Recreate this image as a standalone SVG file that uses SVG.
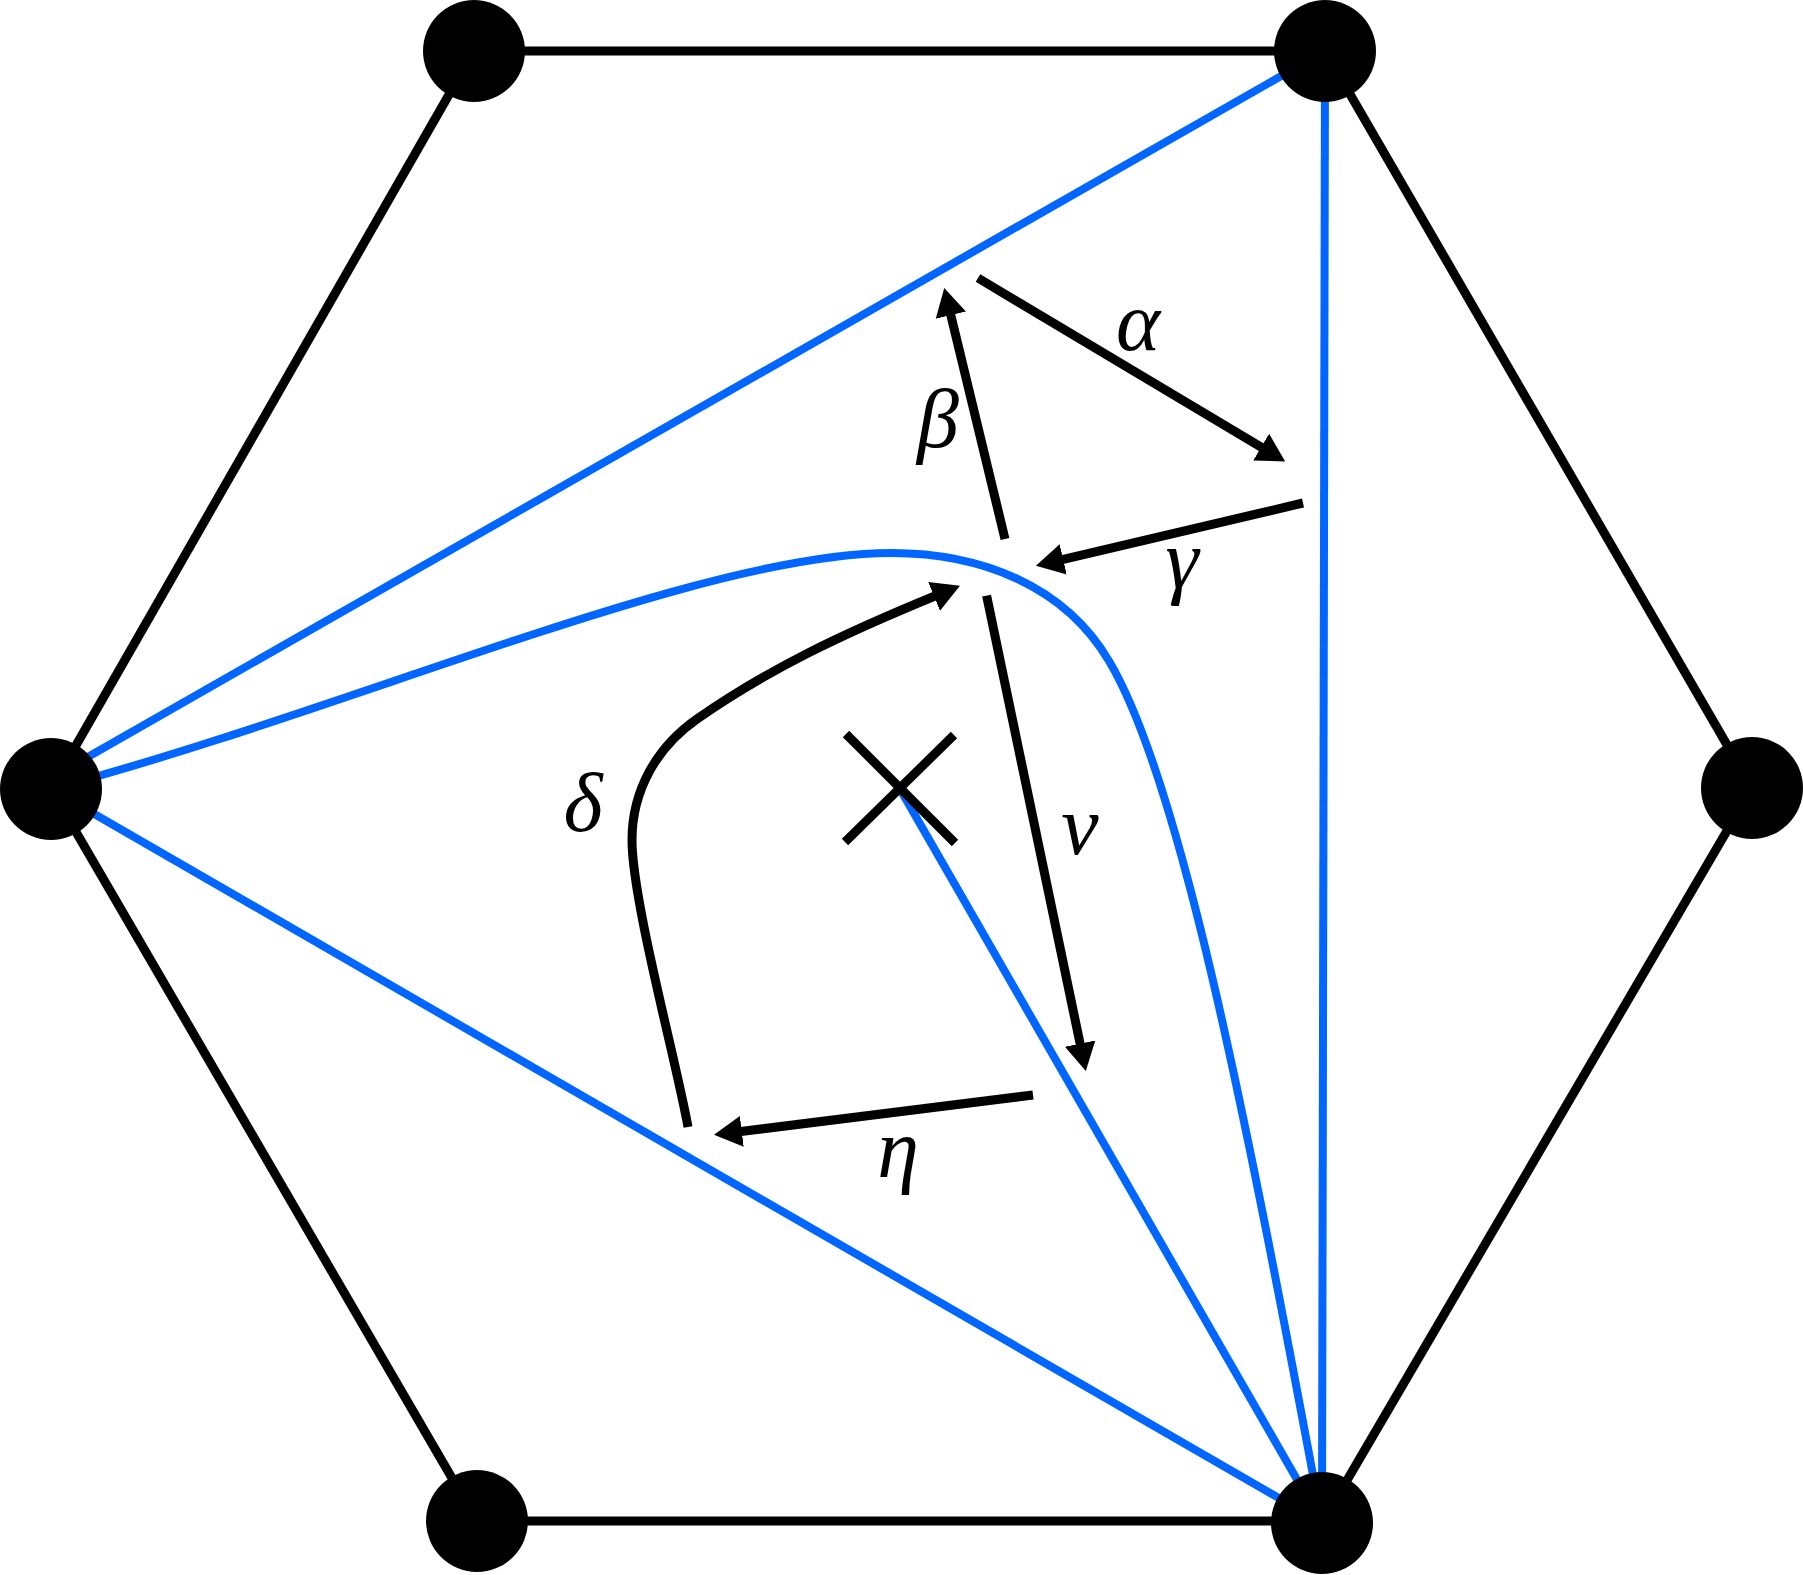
<svg xmlns="http://www.w3.org/2000/svg" width="1803" height="1575" viewBox="0 0 1803 1575">
<style>
.edge{stroke:#000;stroke-width:9;fill:none}
.blue{stroke:#0066FF;stroke-width:8;fill:none}
.arr{stroke:#000;stroke-width:9;fill:none;marker-end:url(#ah)}
.node{fill:#000}
.lbl{font-family:"Liberation Serif","DejaVu Serif",serif;font-style:italic;font-size:84px;fill:#000;text-anchor:middle}
</style>
<defs>
<marker id="ah" markerUnits="userSpaceOnUse" markerWidth="40" markerHeight="40" viewBox="0 -20 40 40" refX="1" refY="0" orient="auto">
<path d="M0,-15.5 L28,0 L0,15.5 Z" fill="#000"/>
</marker>
</defs>
<g id="connectors">
<line class="edge" x1="474" y1="51" x2="1325" y2="51"/>
<line class="edge" x1="1325" y1="51" x2="1752" y2="788"/>
<line class="edge" x1="1752" y1="788" x2="1322" y2="1523"/>
<line class="edge" x1="1322" y1="1521" x2="477" y2="1521"/>
<line class="edge" x1="477" y1="1521" x2="51" y2="789"/>
<line class="edge" x1="51" y1="789" x2="474" y2="51"/>
<line class="blue" x1="51" y1="778" x2="1325" y2="51"/>
<line class="blue" x1="51" y1="789" x2="1322" y2="1523"/>
<line class="blue" x1="1325" y1="51" x2="1322" y2="1523"/>
<line class="blue" x1="900" y1="789" x2="1322" y2="1523"/>
<path class="blue" d="M51,789 C350,710 700,553 891,553 C980,553 1064,585 1109,661 C1180,780 1245,1110 1322,1523"/>
<line class="edge" x1="846" y1="734" x2="955" y2="843"/>
<line class="edge" x1="954" y1="735" x2="845" y2="842"/>
<line class="arr" x1="978" y1="278" x2="1262" y2="447.6"/>
<line class="arr" x1="1005" y1="539" x2="950.6" y2="314.2"/>
<line class="arr" x1="1303" y1="503" x2="1062.2" y2="559.6"/>
<line class="arr" x1="986.6" y1="595.7" x2="1080.3" y2="1044.6"/>
<line class="arr" x1="1033" y1="1095" x2="740.8" y2="1131.5"/>
<path class="arr" d="M688,1127 C676,1060 632,900 632,840 C632,790 657,747 697,719 C770,668 845,633 935,596"/>
</g>
<g id="labels">
<text class="lbl" x="1138" y="350">α</text>
<text class="lbl" x="938" y="447">β</text>
<text class="lbl" x="1182" y="588">γ</text>
<text class="lbl" x="583" y="831">δ</text>
<text class="lbl" x="1080" y="854">ν</text>
<text class="lbl" x="898" y="1177">η</text>
</g>
<g id="n1"><circle class="node" cx="474" cy="51" r="51"/></g>
<g id="n2"><circle class="node" cx="1325" cy="51" r="51"/></g>
<g id="n3"><circle class="node" cx="51" cy="789" r="51"/></g>
<g id="n4"><circle class="node" cx="1752" cy="788" r="51"/></g>
<g id="n5"><circle class="node" cx="477" cy="1521" r="51"/></g>
<g id="n6"><circle class="node" cx="1322" cy="1523" r="51"/></g>
</svg>
